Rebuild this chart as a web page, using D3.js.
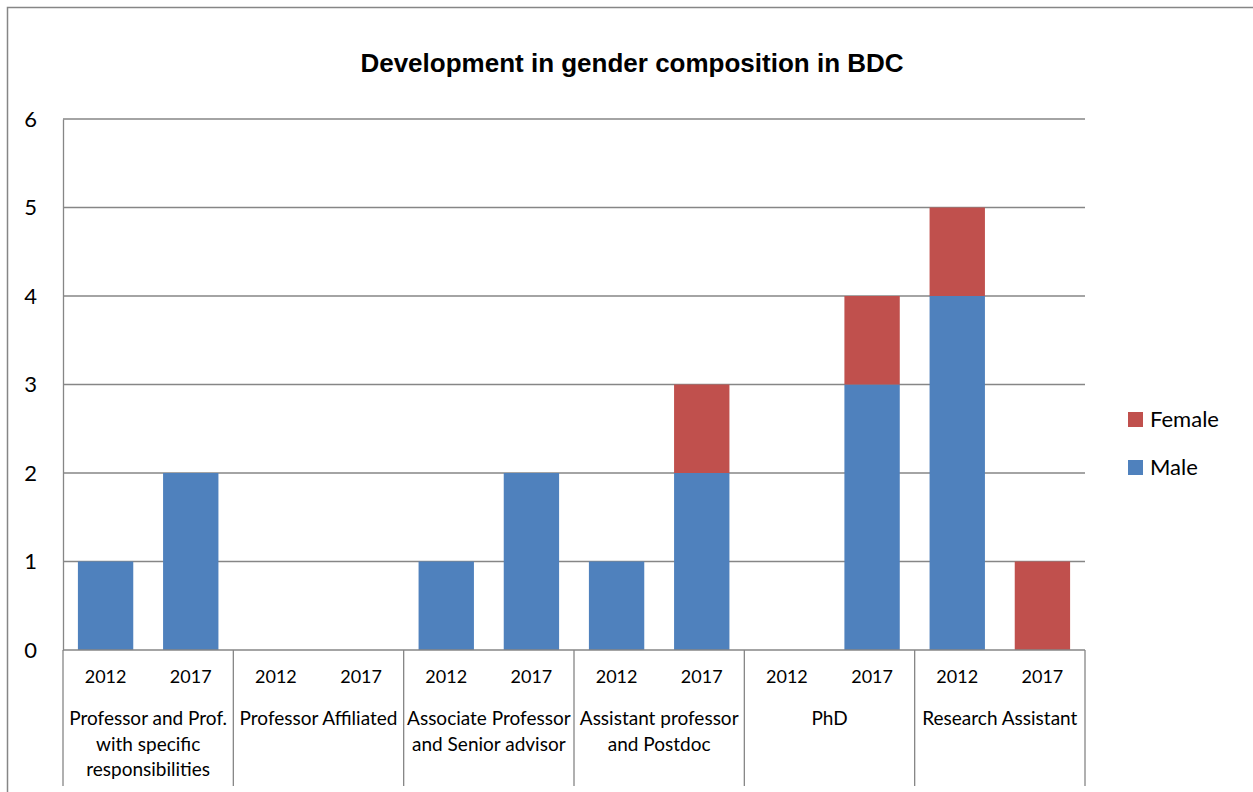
<!DOCTYPE html>
<html>
<head>
<meta charset="utf-8">
<script src="https://cdn.jsdelivr.net/npm/d3@7"></script>
<style>
  body { margin: 0; background: #fff; }
  svg { display: block; }
</style>
</head>
<body>
<div id="chart"></div>
<script>
// data
const groups = [
  ["Professor and Prof.", "with specific", "responsibilities"],
  ["Professor Affiliated"],
  ["Associate Professor", "and Senior advisor"],
  ["Assistant professor", "and Postdoc"],
  ["PhD"],
  ["Research Assistant"]
];
const years = ["2012", "2017"];
const male   = [1, 2, 0, 0, 1, 2, 1, 2, 0, 3, 4, 0];
const female = [0, 0, 0, 0, 0, 0, 0, 1, 0, 1, 1, 1];
const yTicks = [0, 1, 2, 3, 4, 5, 6];

const W = 1253, H = 792;
const plot = { left: 63, right: 1085, top: 119, bottom: 650 };
const labelFont = "Lato, 'Open Sans', sans-serif";

const svg = d3.select("#chart").append("svg")
  .attr("width", W).attr("height", H);

// outer chart border (runs off the picture at right and bottom)
svg.append("rect")
  .attr("x", 7.5).attr("y", 7.5)
  .attr("width", W + 20).attr("height", H + 20)
  .attr("fill", "none").attr("stroke", "#868686").attr("stroke-width", 1.5);

// title
svg.append("text")
  .attr("x", 632).attr("y", 72)
  .attr("text-anchor", "middle")
  .style("font-family", "'Liberation Sans', Arial, sans-serif")
  .style("font-weight", "bold")
  .style("font-size", "26px")
  .text("Development in gender composition in BDC");

// one slot per group/year pair
const slots = [];
groups.forEach((g, i) => years.forEach((yr, j) => slots.push({ g: i, yr: yr, idx: i * 2 + j })));

const x = d3.scaleBand()
  .domain(slots.map(d => d.idx))
  .range([plot.left, plot.right])
  .paddingInner(0.35).paddingOuter(0.175);

const y = d3.scaleLinear().domain([0, 6]).range([plot.bottom, plot.top]);

// gridlines
svg.append("g").selectAll("line")
  .data(yTicks.filter(t => t > 0))
  .join("line")
  .attr("x1", plot.left).attr("x2", plot.right)
  .attr("y1", d => y(d)).attr("y2", d => y(d))
  .attr("stroke", "#868686").attr("stroke-width", 1.3);

// y axis
const yAxis = svg.append("g")
  .attr("transform", `translate(${plot.left},0)`)
  .call(d3.axisLeft(y).tickValues(yTicks).tickFormat(d3.format("d")).tickSize(0).tickPadding(26));
yAxis.select(".domain").attr("stroke", "#868686").attr("stroke-width", 1.3);
yAxis.selectAll("text")
  .style("font-family", labelFont).style("font-size", "22px").attr("fill", "#000");

// stacked bars
const stackData = slots.map((s, i) => ({ idx: s.idx, Male: male[i], Female: female[i] }));
const series = d3.stack().keys(["Male", "Female"])(stackData);
const colors = { Male: "#4F81BD", Female: "#C0504D" };

svg.append("g").selectAll("g")
  .data(series)
  .join("g")
  .attr("fill", d => colors[d.key])
  .selectAll("rect")
  .data(d => d.filter(p => p[1] > p[0]))
  .join("rect")
  .attr("x", d => x(d.data.idx))
  .attr("width", x.bandwidth())
  .attr("y", d => y(d[1]))
  .attr("height", d => y(d[0]) - y(d[1]));

// x axis baseline
svg.append("line")
  .attr("x1", plot.left).attr("x2", plot.right)
  .attr("y1", plot.bottom).attr("y2", plot.bottom)
  .attr("stroke", "#868686").attr("stroke-width", 1.3);

// group separators
const slotW = (plot.right - plot.left) / slots.length;
const sep = d3.range(groups.length + 1).map(i => plot.left + i * 2 * slotW);
svg.append("g").selectAll("line")
  .data(sep)
  .join("line")
  .attr("x1", d => d).attr("x2", d => d)
  .attr("y1", plot.bottom).attr("y2", 786)
  .attr("stroke", "#868686").attr("stroke-width", 1.3);

// year labels
svg.append("g").selectAll("text")
  .data(slots)
  .join("text")
  .attr("x", d => x(d.idx) + x.bandwidth() / 2)
  .attr("y", 683)
  .attr("text-anchor", "middle")
  .style("font-family", labelFont).style("font-size", "18px")
  .text(d => d.yr);

// group labels
svg.append("g").selectAll("text")
  .data(groups)
  .join("text")
  .attr("x", (d, i) => (sep[i] + sep[i + 1]) / 2)
  .attr("y", 725)
  .attr("text-anchor", "middle")
  .style("font-family", labelFont).style("font-size", "19px")
  .selectAll("tspan")
  .data(d => d)
  .join("tspan")
  .attr("x", function () { return this.parentNode.getAttribute("x"); })
  .attr("dy", (d, i) => i === 0 ? 0 : 25.5)
  .text(d => d);

// legend
const legendKeys = ["Female", "Male"];
const legend = svg.append("g").selectAll("g")
  .data(legendKeys)
  .join("g")
  .attr("transform", (d, i) => `translate(1128,${412 + i * 48})`);
legend.append("rect")
  .attr("width", 15).attr("height", 15)
  .attr("fill", d => colors[d]);
legend.append("text")
  .attr("x", 22).attr("y", 15)
  .style("font-family", labelFont).style("font-size", "22px")
  .text(d => d);
</script>
</body>
</html>
